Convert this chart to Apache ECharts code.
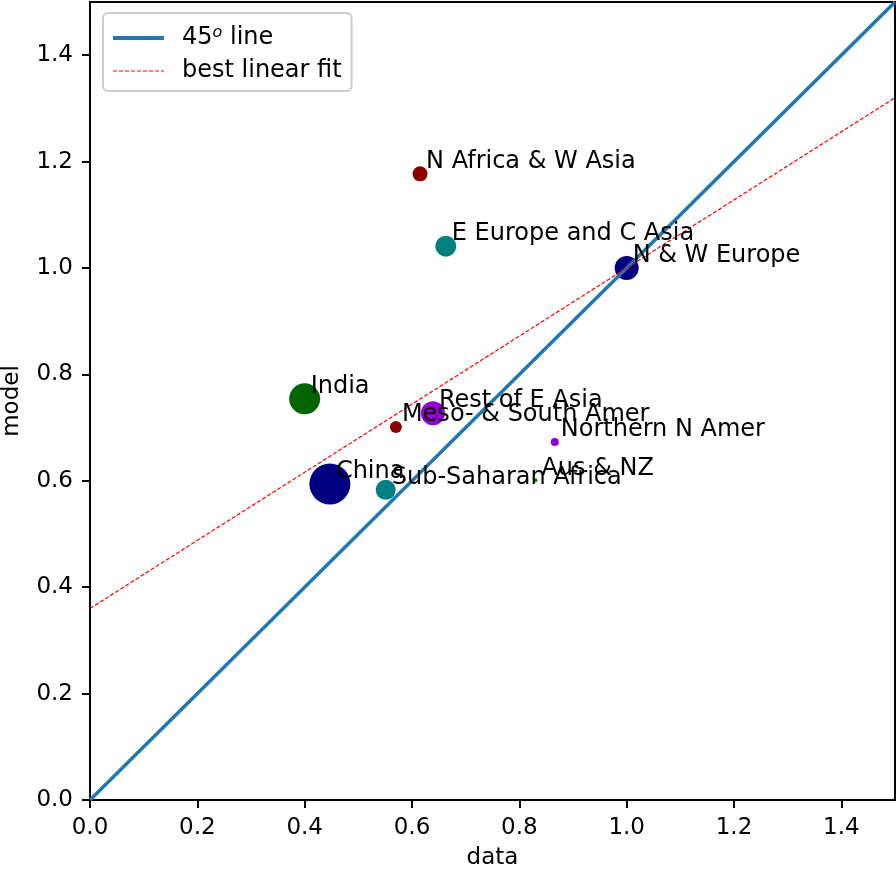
<!DOCTYPE html>
<html>
<head>
<meta charset="utf-8">
<script src="https://cdn.jsdelivr.net/npm/echarts@6/dist/echarts.min.js"></script>
<style>
  html, body { margin: 0; padding: 0; background: #fff; }
  #chart { width: 896px; height: 875px; }
</style>
</head>
<body>
<div id="chart"></div>
<script>
// Regions: observed ("data") vs simulated ("model") values
const regions = ['N Africa & W Asia', 'E Europe and C Asia', 'N & W Europe', 'India',
  'Rest of E Asia', 'Meso- & South Amer', 'Northern N Amer', 'Aus & NZ', 'China', 'Sub-Saharan Africa'];
const dataVals  = [0.615, 0.663, 1.000, 0.400, 0.639, 0.570, 0.866, 0.830, 0.447, 0.551];
const modelVals = [1.177, 1.041, 1.000, 0.754, 0.727, 0.701, 0.673, 0.601, 0.594, 0.583];
// relative weight of each region (marker diameter)
const weights   = [15, 21, 24, 31, 24, 12, 8, 4, 41, 20];
const regionColors = ['#8b0000', '#008080', '#000080', '#006400', '#9400d3',
  '#8b0000', '#9400d3', '#008000', '#000080', '#008080'];

// Least-squares fit of model on data
const fitIntercept = 0.36;
const fitSlope = 0.64;

const axisMin = 0, axisMax = 1.5;
const tickVals = [0, 0.2, 0.4, 0.6, 0.8, 1.0, 1.2, 1.4];

const FONT = 'DejaVu Sans';
const FS = 23;

const points = regions.map((name, i) => ({
  name,
  value: [dataVals[i], modelVals[i]],
  symbolSize: weights[i],
  itemStyle: { color: regionColors[i], opacity: 1 }
}));

const labelPoints = regions.map((name, i) => ({ name, value: [dataVals[i], modelVals[i]] }));

function axisCommon(name, nameGap, rotate, margin) {
  return {
    type: 'value', min: axisMin, max: axisMax,
    name, nameLocation: 'middle', nameGap, nameRotate: rotate,
    nameTextStyle: { fontFamily: FONT, fontSize: FS, color: '#000' },
    splitLine: { show: false },
    axisLine: { show: true, onZero: false, lineStyle: { color: '#000', width: 2 } },
    axisTick: { show: true, inside: false, length: 8, customValues: tickVals, lineStyle: { color: '#000', width: 2 } },
    axisLabel: {
      customValues: tickVals, margin,
      fontFamily: FONT, fontSize: FS, color: '#000',
      formatter: v => v.toFixed(1)
    }
  };
}

const chart = echarts.init(document.getElementById('chart'), null, { renderer: 'canvas' });
chart.setOption({
  animation: false,
  backgroundColor: '#fff',
  grid: {
    left: 90, top: 2, right: 1, bottom: 75,
    containLabel: false, outerBoundsMode: 'none',
    show: true, borderColor: '#000', borderWidth: 2, backgroundColor: 'transparent'
  },
  xAxis: axisCommon('data', 47, 0, 17),
  yAxis: axisCommon('model', 66, 90, 17),
  legend: {
    left: 103, top: 13, orient: 'vertical',
    data: [
      { name: '45o line', itemStyle: { opacity: 0 }, lineStyle: { width: 4, color: '#1f77b4' } },
      { name: 'best linear fit', itemStyle: { opacity: 0 }, lineStyle: { width: 1.2, color: '#ff0000', type: [4, 2] } }
    ],
    backgroundColor: '#fff', borderColor: '#cccccc', borderWidth: 2, borderRadius: 5,
    padding: [12, 10, 8, 8],
    itemWidth: 51, itemHeight: 24, itemGap: 9,
    textStyle: {
      fontFamily: FONT, fontSize: 24, color: '#000', padding: [0, 0, 0, 13],
      rich: {
        sup: { fontFamily: FONT, fontSize: 16, fontStyle: 'italic', color: '#000', padding: [0, 0, 10, 0] },
        t: { fontFamily: FONT, fontSize: 24, color: '#000' }
      }
    },
    formatter: name => name === '45o line' ? '{t|45}{sup|o}{t| line}' : name
  },
  series: [
    {
      name: 'regions', type: 'scatter', z: 2,
      symbol: 'circle', data: points
    },
    {
      name: '45o line', type: 'line', z: 3,
      symbol: 'none', showSymbol: false,
      itemStyle: { color: '#1f77b4' },
      lineStyle: { color: '#1f77b4', width: 3.5 },
      data: [[axisMin, axisMin], [axisMax, axisMax]]
    },
    {
      name: 'best linear fit', type: 'line', z: 3,
      symbol: 'none', showSymbol: false,
      itemStyle: { color: '#ff0000' },
      lineStyle: { color: '#ff0000', width: 1.2, type: [4, 2] },
      data: [[axisMin, fitIntercept + fitSlope * axisMin], [axisMax, fitIntercept + fitSlope * axisMax]]
    },
    {
      name: 'names', type: 'scatter', z: 4, silent: true,
      symbolSize: 0.001, data: labelPoints,
      itemStyle: { opacity: 0 },
      label: {
        show: true, position: [6, 0], align: 'left', verticalAlign: 'bottom',
        fontFamily: FONT, fontSize: 24, color: '#000', opacity: 1,
        formatter: p => p.name
      }
    }
  ]
});
</script>
</body>
</html>
